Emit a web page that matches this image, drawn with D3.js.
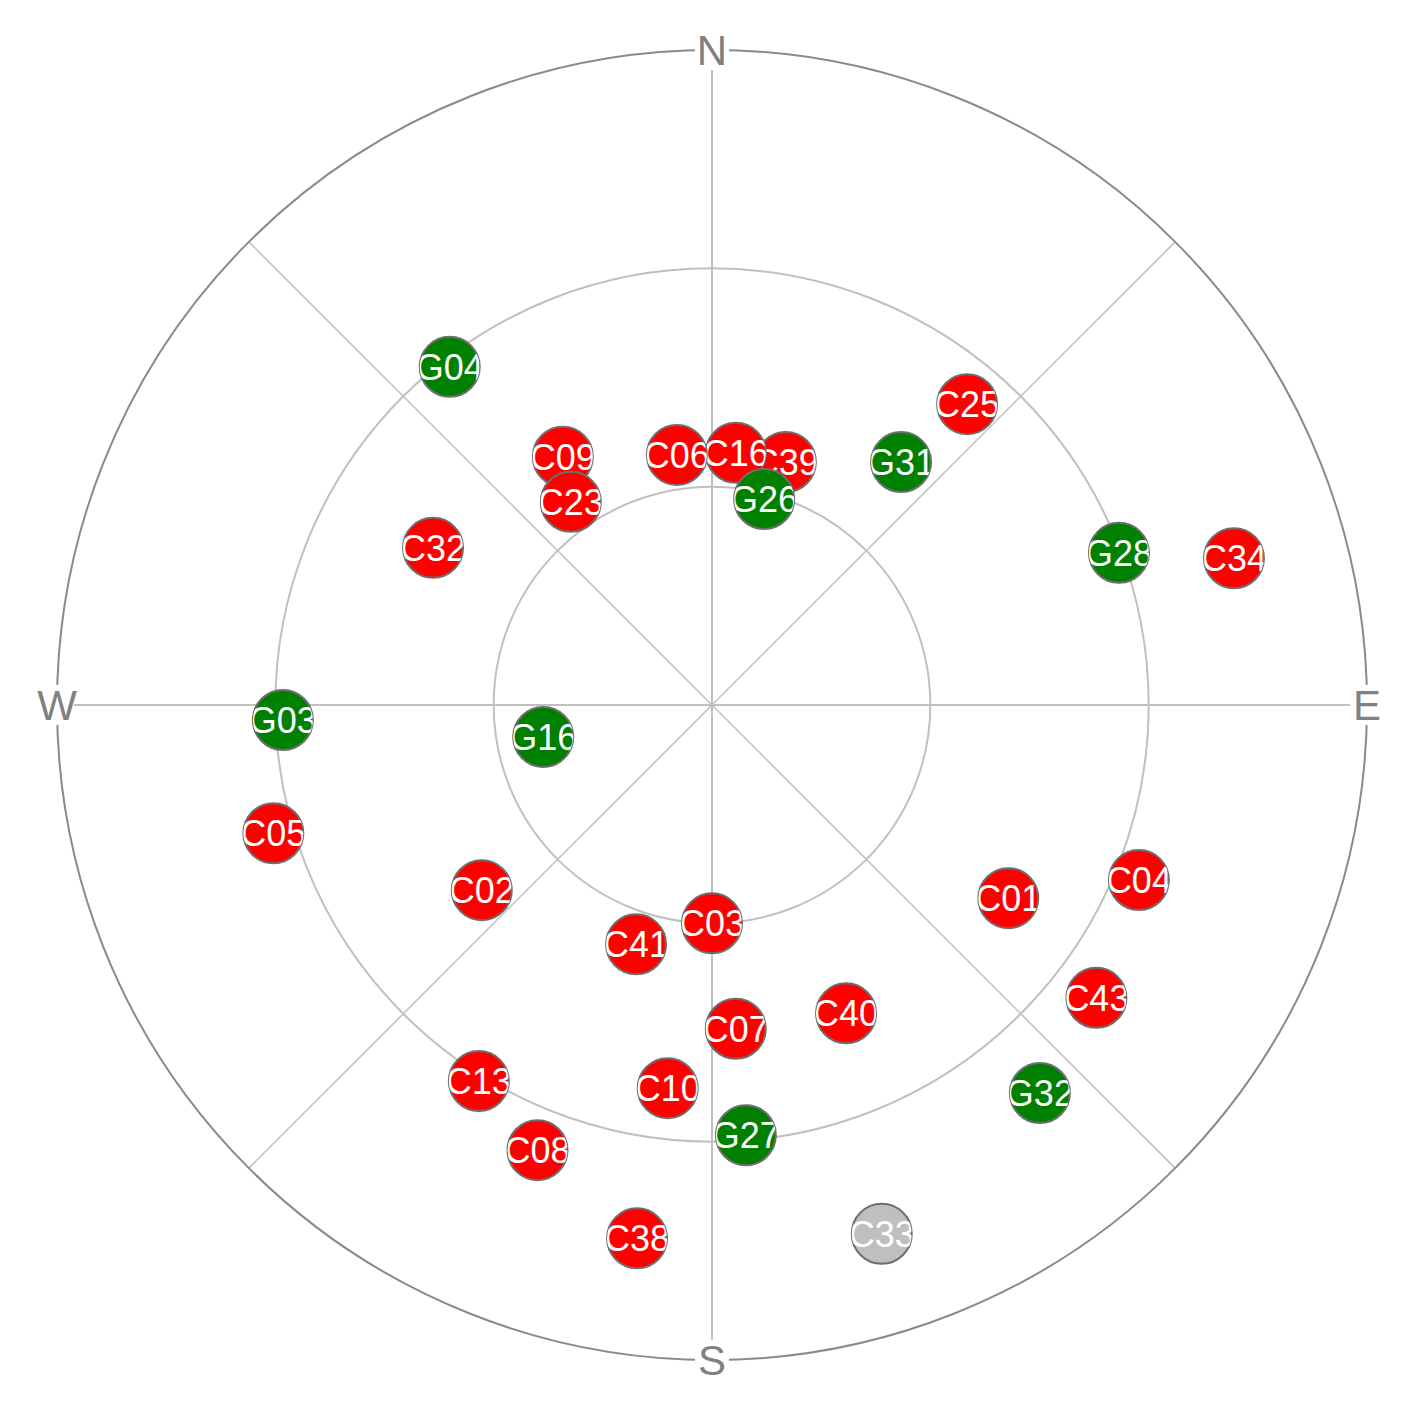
<!DOCTYPE html>
<html lang="en">
<head>
<meta charset="utf-8">
<script src="https://d3js.org/d3.v7.min.js"></script>
<style>
  body { margin: 0; background: #fff; }
  svg text { font-family: "Liberation Sans", Arial, sans-serif; }
</style>
<title>Skyplot</title>
</head>
<body>
<script>
// satellite ids, azimuth (deg from north, clockwise), elevation (deg)
var sats   = ["C39","C16","C06","G26","C09","C23","G04","C25","G31","C32","G28","C34",
              "G03","G16","C05","C02","C01","C04","C03","C41","C40","C43","C07","C13",
              "C10","G32","G27","C08","C38","C33"];
var azim   = [16.9, 5.4, 352.0, 14.2, 329.0, 325.2, 322.2, 40.3, 37.9, 299.4, 69.5, 74.3,
              268.0, 259.3, 253.7, 231.2, 123.1, 112.3, 180.0, 197.6, 156.5, 127.3, 175.8, 211.8,
              186.6, 139.8, 175.5, 201.4, 188.0, 162.2];
var elev   = [55.1, 55.2, 55.3, 60.8, 50.2, 56.0, 31.2, 35.8, 47.7, 46.0, 30.3, 15.5,
              31.0, 66.4, 27.2, 49.4, 41.4, 26.6, 60.0, 55.5, 43.8, 23.6, 45.4, 29.2,
              37.0, 20.2, 30.7, 24.3, 16.0, 13.7];
// 1 = tracked (colour by system), 0 = not tracked
var tracked = [1,1,1,1,1,1,1,1,1,1,1,1,
               1,1,1,1,1,1,1,1,1,1,1,1,
               1,1,1,1,1,0];

var rings = [0, 30, 60];          // elevation rings
var spokes = [0, 45, 90, 135, 180, 225, 270, 315];
var dirs = ["N","E","S","W"];
var dirAz = [0, 90, 180, 270];

var w = 1402, h = 1413;
var cx = 712, cy = 705, R = 655;

var rScale = d3.scaleLinear().domain([90, 0]).range([0, R]);
var sysColor = { C: "#ff0000", G: "#008000" };

function satColor(i) {
  if (!tracked[i]) return "#bfbfbf";
  return sysColor[sats[i].charAt(0)];
}

function px(az, el) { return cx + rScale(el) * Math.sin(az * Math.PI / 180); }
function py(az, el) { return cy - rScale(el) * Math.cos(az * Math.PI / 180); }

var svg = d3.select("body").append("svg")
  .attr("width", w)
  .attr("height", h);

// spokes
svg.selectAll("line.spoke")
  .data(spokes)
  .enter().append("line")
  .attr("class", "spoke")
  .attr("x1", cx).attr("y1", cy)
  .attr("x2", function(d) { return px(d, 0); })
  .attr("y2", function(d) { return py(d, 0); })
  .attr("stroke", "#c0c0c0")
  .attr("stroke-width", function(d) { return d % 90 == 0 ? 2 : 1.5; });

// rings
svg.selectAll("circle.ring")
  .data(rings)
  .enter().append("circle")
  .attr("class", "ring")
  .attr("cx", cx).attr("cy", cy)
  .attr("r", function(d) { return rScale(d); })
  .attr("fill", "none")
  .attr("stroke", function(d) { return d == 0 ? "#8a8a8a" : "#c0c0c0"; })
  .attr("stroke-width", 2);

// compass letters
var dg = svg.selectAll("g.dir")
  .data(dirs)
  .enter().append("g")
  .attr("class", "dir")
  .attr("transform", function(d, i) { return "translate(" + px(dirAz[i], 0) + "," + py(dirAz[i], 0) + ")"; });

dg.append("rect")
  .attr("x", -17).attr("y", -20).attr("width", 34).attr("height", 40)
  .attr("fill", "#fff");

dg.append("text")
  .attr("text-anchor", "middle")
  .attr("dy", "0.36em")
  .attr("font-size", 42)
  .attr("fill", "#808080")
  .text(function(d) { return d; });

// satellites
var defs = svg.append("defs");
var sr = 30;

sats.forEach(function(id, i) {
  var x = px(azim[i], elev[i]), y = py(azim[i], elev[i]);
  defs.append("clipPath").attr("id", "clip" + id)
    .append("circle").attr("cx", x).attr("cy", y).attr("r", sr);
  var g = svg.append("g").attr("class", "sat");
  g.append("circle")
    .attr("cx", x).attr("cy", y).attr("r", sr)
    .attr("fill", satColor(i))
    .attr("stroke", "#6e6e6e")
    .attr("stroke-width", 2);
  g.append("text")
    .attr("x", x).attr("y", y)
    .attr("text-anchor", "middle")
    .attr("dy", "0.36em")
    .attr("font-size", 36)
    .attr("fill", "#fff")
    .attr("clip-path", "url(#clip" + id + ")")
    .text(id);
});
</script>
</body>
</html>
